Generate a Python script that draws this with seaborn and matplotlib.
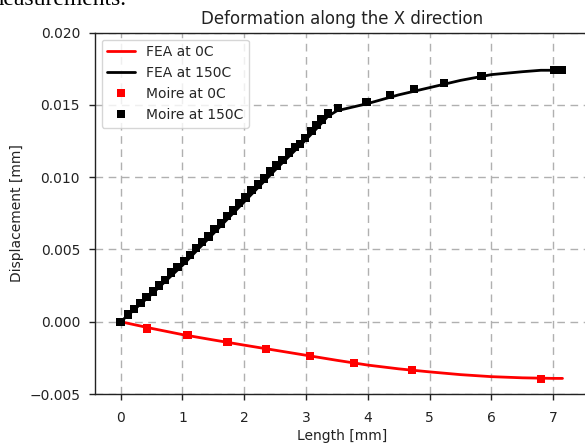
import matplotlib
matplotlib.use("Agg")
import matplotlib.pyplot as plt
import seaborn as sns
import pandas as pd

# FEA curves
fea_x_0c = [0.0, 0.5, 1.0, 1.5, 2.0, 2.5, 3.0, 3.5, 4.0, 4.5, 5.0, 5.5, 6.0, 6.5, 7.0, 7.15]
fea_y_0c = [0.0, -0.00046, -0.00089, -0.00126, -0.00162, -0.00197, -0.00232, -0.00267,
            -0.00300, -0.00326, -0.00347, -0.00366, -0.00380, -0.00388, -0.00392, -0.00392]

fea_x_150c = [0.0, 0.5, 1.0, 1.5, 2.0, 2.5, 3.0, 3.2, 3.35, 3.5, 4.0, 4.5, 5.0, 5.5,
              6.0, 6.5, 6.8, 7.15]
fea_y_150c = [0.0, 0.0019, 0.0039, 0.0061, 0.0083, 0.0105, 0.0126, 0.0135, 0.0142, 0.0146,
              0.0151, 0.0157, 0.0162, 0.0167, 0.0171, 0.0173, 0.0174, 0.0174]

# Moire measurements
moire_x_0c = [0.0, 0.43, 1.08, 1.73, 2.35, 3.06, 3.78, 4.71, 6.80]
moire_y_0c = [0.0, -0.00046, -0.00093, -0.00141, -0.00189, -0.00238, -0.00286, -0.00335, -0.00394]

moire_x_150c = [0.00, 0.12, 0.22, 0.32, 0.42, 0.52, 0.62, 0.72, 0.82, 0.92, 1.02, 1.12,
                1.22, 1.32, 1.42, 1.52, 1.62, 1.72, 1.82, 1.92, 2.02, 2.12, 2.22, 2.32,
                2.42, 2.52, 2.62, 2.72, 2.82, 2.90, 2.98, 3.09, 3.17, 3.25, 3.36, 3.52,
                3.98, 4.36, 4.75, 5.23, 5.84, 7.01, 7.14]
moire_y_150c = [0.0000, 0.0005, 0.0009, 0.0013, 0.0017, 0.0021, 0.0025, 0.0029, 0.0034,
                0.0038, 0.0042, 0.0046, 0.0051, 0.0055, 0.0059, 0.0064, 0.0068, 0.0073,
                0.0077, 0.0082, 0.0086, 0.0091, 0.0095, 0.0099, 0.0104, 0.0108, 0.0112,
                0.0117, 0.0121, 0.0123, 0.0127, 0.0132, 0.0136, 0.0140, 0.0144, 0.0148,
                0.0152, 0.0157, 0.0161, 0.0165, 0.0170, 0.0174, 0.0174]

y_ticks = [-0.005, 0.000, 0.005, 0.010, 0.015, 0.020]
x_ticks = [0, 1, 2, 3, 4, 5, 6, 7]

sns.set_style("ticks")
plt.rcParams["font.family"] = ["DejaVu Sans"]

fea = pd.concat([
    pd.DataFrame({"x": fea_x_0c, "y": fea_y_0c, "series": "FEA at 0C"}),
    pd.DataFrame({"x": fea_x_150c, "y": fea_y_150c, "series": "FEA at 150C"}),
])
moire = pd.concat([
    pd.DataFrame({"x": moire_x_0c, "y": moire_y_0c, "series": "Moire at 0C"}),
    pd.DataFrame({"x": moire_x_150c, "y": moire_y_150c, "series": "Moire at 150C"}),
])

fig = plt.figure(figsize=(5.85, 4.46), dpi=100)
ax = fig.add_axes([94.7 / 585, 52 / 446, 495.6 / 585, 361.3 / 446])

sns.lineplot(data=fea, x="x", y="y", hue="series", sort=False,
             palette={"FEA at 0C": "#ff0000", "FEA at 150C": "#000000"},
             linewidth=2, ax=ax, zorder=2)
sns.scatterplot(data=moire, x="x", y="y", hue="series", marker="s", s=36,
                palette={"Moire at 0C": "#ff0000", "Moire at 150C": "#000000"},
                edgecolor="none", linewidth=0, ax=ax, zorder=3)

ax.set_xlim(-0.42, 7.6)
ax.set_ylim(-0.005, 0.020)
ax.set_xticks(x_ticks)
ax.set_yticks(y_ticks)
ax.set_yticklabels(["\u22120.005" if v < 0 else f"{v:.3f}" for v in y_ticks])
ax.grid(True, linestyle=(0, (5.5, 4)), color="#b0b0b0", linewidth=1)
ax.set_axisbelow(True)
for side in ["top", "right", "left", "bottom"]:
    ax.spines[side].set_visible(True)
    ax.spines[side].set_color("#222222")
    ax.spines[side].set_linewidth(1)
ax.tick_params(axis="both", direction="out", length=4, width=1, color="#222222",
               labelsize=10, labelcolor="#222222")
ax.tick_params(axis="x", pad=8)
ax.tick_params(axis="y", pad=6.5)

ax.set_title("Deformation along the X direction", fontsize=12, color="#222222")
ax.set_xlabel("Length [mm]", fontsize=10, color="#222222", labelpad=3)
ax.set_ylabel("Displacement [mm]", fontsize=10, color="#222222")

handles, labels = ax.get_legend_handles_labels()
ax.legend(handles=handles, labels=labels, loc="upper left", fontsize=10,
          frameon=True, framealpha=0.8, edgecolor="#cccccc", fancybox=True)

# Running text of the surrounding page, clipped at the top edge
fig.text(-14 / 585, 1 - 5 / 446, "measurements.", family="Liberation Serif",
         fontsize=17, va="baseline", ha="left", color="black")

fig.savefig("out.png", dpi=100)
